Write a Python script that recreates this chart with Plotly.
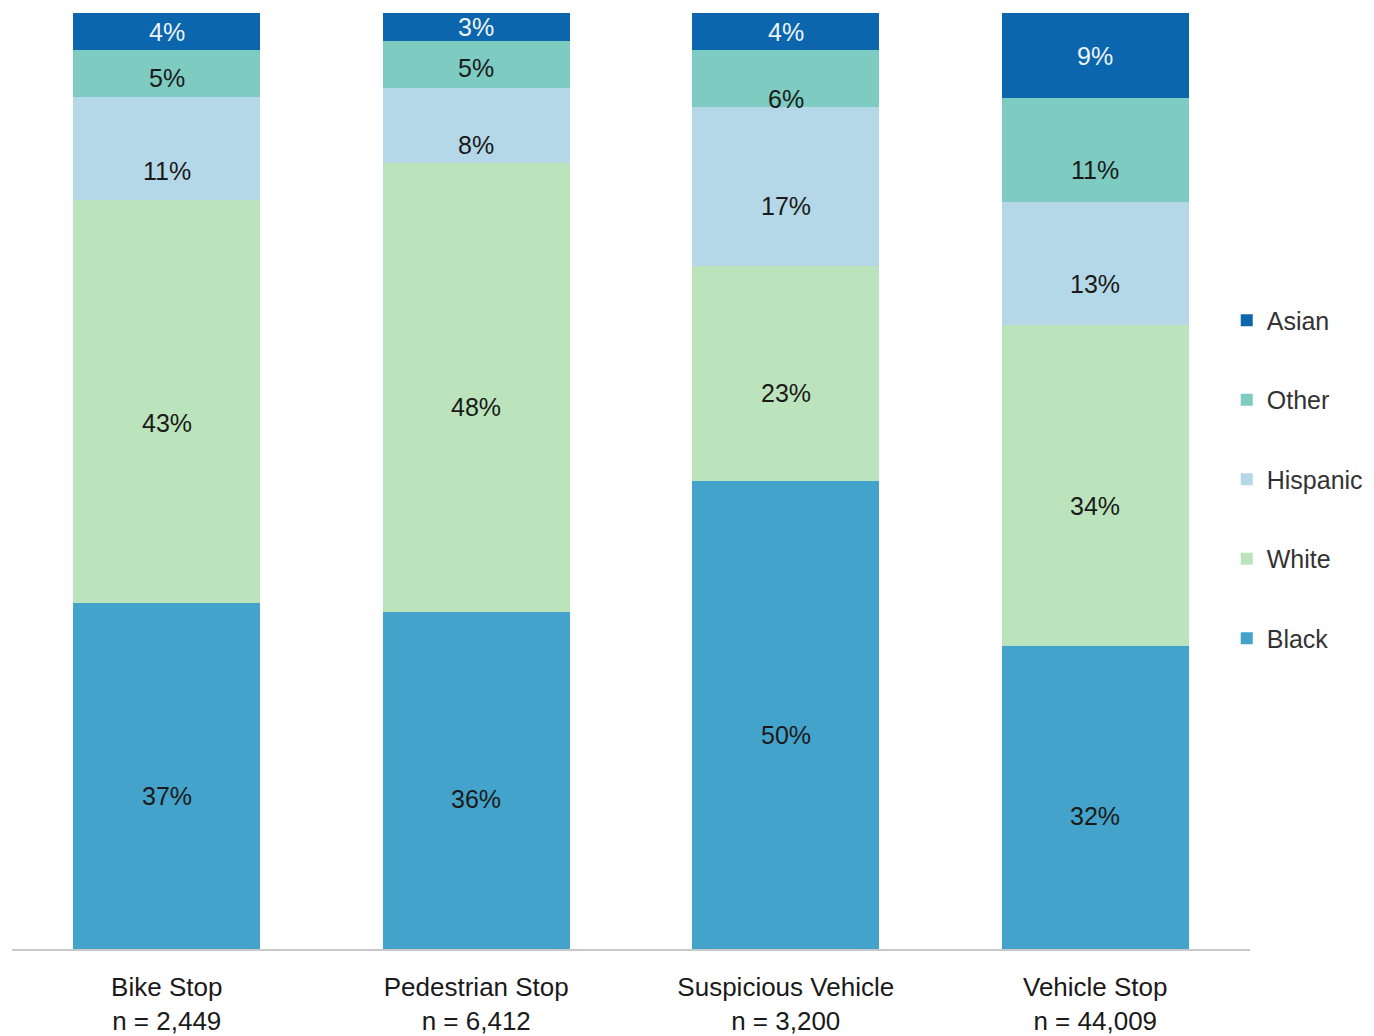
import plotly.graph_objects as go

categories = ["Bike Stop<br>n = 2,449", "Pedestrian Stop<br>n = 6,412",
              "Suspicious Vehicle<br>n = 3,200", "Vehicle Stop<br>n = 44,009"]

black = [37, 36, 50, 32]
white = [43, 48, 23, 34]
hispanic = [11, 8, 17, 13]
other = [5, 5, 6, 11]
asian = [4, 3, 4, 9]

series = [
    ("Black", black, "#44a3cb", "#1a1a1a", 5),
    ("White", white, "#bce4bc", "#1a1a1a", 4),
    ("Hispanic", hispanic, "#b4d8e7", "#1a1a1a", 3),
    ("Other", other, "#7dcbc1", "#1a1a1a", 2),
    ("Asian", asian, "#0b66ad", "#eef4fa", 1),
]

# label vertical nudges (pixels) per series, as placed in the original
label_shift = {
    "Black": [-20, -18, -20, -18],
    "White": [-22, -20, -20, -20],
    "Hispanic": [-22, -20, -20, -20],
    "Other": [-4, -4, -20, -20],
    "Asian": [0, 0, 0, 0],
}

FONT = "Liberation Sans, Arial, sans-serif"

fig = go.Figure()
totals = [sum(s[1][i] for s in series) for i in range(len(categories))]
cum = [0.0] * len(categories)
for name, vals, color, tcolor, rank in series:
    fig.add_trace(go.Bar(
        x=categories, y=vals, name=name, legendgroup=name, legendrank=rank,
        marker=dict(color=color, line=dict(width=0)),
        hoverinfo="skip",
    ))
    for i, v in enumerate(vals):
        center = (cum[i] + v / 2) / totals[i] * 100
        fig.add_annotation(
            x=categories[i], y=center, text=f"{v}%", showarrow=False,
            yshift=label_shift[name][i],
            font=dict(color=tcolor, size=25, family=FONT),
        )
        cum[i] += v

fig.update_layout(
    width=1374, height=1036,
    barmode="stack", barnorm="percent", bargap=0.397,
    plot_bgcolor="white", paper_bgcolor="white",
    margin=dict(l=4, r=132, t=5, b=95, autoexpand=False),
    font=dict(family=FONT, size=25, color="#1a1a1a"),
    xaxis=dict(showline=True, linecolor="#c8c8c8", linewidth=1.5,
               showgrid=False, ticks="", tickfont=dict(size=26, color="#1a1a1a"),
               ticklabelstandoff=14, automargin=False),
    yaxis=dict(visible=False, range=[0, 100], automargin=False),
    legend=dict(xref="container", yref="container",
                x=0.887, xanchor="left", y=0.545, yanchor="middle",
                traceorder="grouped", tracegroupgap=44,
                font=dict(size=25, color="#333333"),
                itemwidth=30, bgcolor="rgba(0,0,0,0)"),
)

fig.write_html("out.html")
